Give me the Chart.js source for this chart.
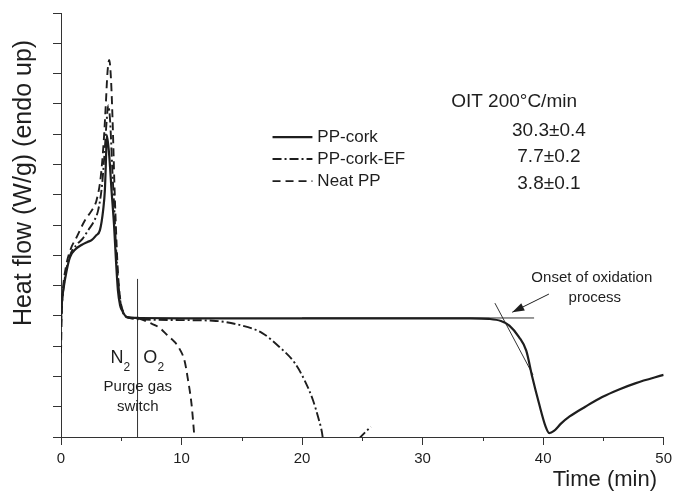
<!DOCTYPE html>
<html>
<head>
<meta charset="utf-8">
<script src="https://cdn.jsdelivr.net/npm/chart.js@4.4.1/dist/chart.umd.min.js"></script>
<style>
  html, body { margin: 0; padding: 0; background: #fff; }
  #wrap { width: 674px; height: 492px; position: relative; }
</style>
</head>
<body>
<div id="wrap"><canvas id="c"></canvas></div>
<script>
// OIT curves, heat flow (arbitrary units, endo up) vs time (min)
const corkTime = [0, 0.08, 0.19, 0.47, 0.75, 1.2, 1.7, 2.2, 2.54, 2.9, 3.23, 3.5, 3.64, 3.72, 3.8, 4.0, 4.2, 4.4, 4.55, 4.72, 4.9, 5.05, 5.46, 6.5, 10, 20, 30, 34, 35.5, 36.5, 37.2, 38.0, 38.6, 39.1, 39.65, 40.2, 40.5, 40.9, 41.5, 42.2, 43.5, 44.9, 46.3, 47.7, 50];
const corkFlow = [3.9, 4.5, 4.85, 5.5, 5.94, 6.2, 6.34, 6.44, 6.5, 6.65, 6.83, 7.5, 8.15, 9.0, 9.97, 9.3, 8.1, 7.0, 5.9, 4.85, 4.35, 4.19, 3.96, 3.93, 3.92, 3.92, 3.92, 3.92, 3.9, 3.83, 3.68, 3.3, 2.85, 1.98, 1.12, 0.35, 0.13, 0.2, 0.45, 0.68, 1.0, 1.32, 1.57, 1.78, 2.05];

const efTime = [0, 0.08, 0.2, 0.45, 0.8, 1.3, 1.8, 2.26, 2.7, 3.09, 3.4, 3.6, 3.78, 3.92, 4.08, 4.25, 4.45, 4.6, 4.8, 5.0, 5.3, 5.8, 7, 9.85, 12.6, 14.8, 16.7, 18.1, 19.4, 20.2, 20.9, 21.4, 21.66, 21.8, 23, 24.7, 25.7];
const efFlow = [3.7, 4.4, 4.9, 5.55, 6.05, 6.35, 6.55, 6.83, 7.1, 7.5, 8.3, 9.3, 10.4, 10.95, 10.4, 8.9, 7.3, 6.0, 4.9, 4.3, 4.0, 3.92, 3.88, 3.86, 3.84, 3.7, 3.43, 2.98, 2.44, 1.88, 1.22, 0.56, 0.13, -0.3, null, -0.06, 0.34];

const neatTime = [0, 0.06, 0.15, 0.4, 0.8, 1.3, 1.99, 2.5, 2.95, 3.3, 3.55, 3.72, 3.85, 4.0, 4.15, 4.3, 4.42, 4.55, 4.7, 4.9, 5.2, 5.6, 6.5, 7.4, 8.2, 8.8, 9.4, 9.85, 10.26, 10.54, 10.82, 11.0, 11.1];
const neatFlow = [2.77, 4.0, 4.8, 5.6, 6.2, 6.6, 7.16, 7.45, 7.82, 8.6, 9.8, 11.0, 12.0, 12.45, 11.8, 10.2, 8.5, 7.0, 5.6, 4.6, 4.1, 3.95, 3.9, 3.76, 3.6, 3.37, 3.15, 2.9, 2.5, 1.88, 1.12, 0.33, -0.2];

// construction lines
const baselineTime = [20, 39.25];
const baselineFlow = [3.93, 3.93];
const tangentTime = [36.0, 39.16];
const tangentFlow = [4.42, 2.05];
const switchTime = [6.35, 6.35];
const switchFlow = [0, 5.22];

const seriesLabels = ['PP-cork', 'PP-cork-EF', 'Neat PP'];
const oitValues = ['30.3±0.4', '7.7±0.2', '3.8±0.1'];
const xTicks = [0, 10, 20, 30, 40, 50];

const FONT = '"Liberation Sans", Arial, Helvetica, sans-serif';
const INK = '#1e1e1e';

const pts = (xs, ys) => xs.map((v, i) => ({ x: v, y: ys[i] }));

function lineDs(label, xs, ys, dash, width) {
  return {
    label, data: pts(xs, ys), borderColor: INK, borderWidth: width, borderDash: dash,
    pointRadius: 0, fill: false, cubicInterpolationMode: 'monotone', spanGaps: false,
  };
}
function helperDs(xs, ys) {
  return { label: '', data: pts(xs, ys), borderColor: '#333', borderWidth: 1, pointRadius: 0, tension: 0, fill: false };
}

const annot = {
  id: 'annot',
  afterDraw(chart) {
    const { ctx, scales: { x, y } } = chart;
    const px = v => x.getPixelForValue(v);
    const py = v => y.getPixelForValue(v);
    ctx.save();
    ctx.fillStyle = INK;

    // minor x ticks
    ctx.lineWidth = 1;
    ctx.strokeStyle = '#333';
    for (let t = 5; t < 50; t += 10) {
      const xx = Math.round(px(t)) + 0.5;
      ctx.beginPath(); ctx.moveTo(xx, chart.chartArea.bottom); ctx.lineTo(xx, chart.chartArea.bottom + 4); ctx.stroke();
    }

    // axis titles
    ctx.font = '25px ' + FONT;
    ctx.textAlign = 'center'; ctx.textBaseline = 'middle';
    ctx.save();
    ctx.translate(24, 183);
    ctx.rotate(-Math.PI / 2);
    ctx.fillText('Heat flow (W/g) (endo up)', 0, 0);
    ctx.restore();
    ctx.font = '22px ' + FONT;
    ctx.textAlign = 'right';
    ctx.fillText('Time (min)', 657, 480);

    // legend
    ctx.font = '17px ' + FONT;
    ctx.textAlign = 'left';
    const legY = [9.90, 9.18, 8.45];
    chart.data.datasets.slice(0, 3).forEach((ds, i) => {
      ctx.strokeStyle = INK;
      ctx.lineWidth = ds.borderWidth;
      ctx.setLineDash(ds.borderDash || []);
      ctx.beginPath(); ctx.moveTo(px(17.55), py(legY[i])); ctx.lineTo(px(20.86), py(legY[i])); ctx.stroke();
      ctx.setLineDash([]);
      ctx.fillText(ds.label, px(21.27), py(legY[i]));
    });

    // OIT table
    ctx.font = '19px ' + FONT;
    ctx.textAlign = 'left';
    ctx.fillText('OIT 200°C/min', px(32.37), py(11.06));
    ctx.textAlign = 'center';
    const valY = [10.10, 9.24, 8.35];
    oitValues.forEach((v, i) => ctx.fillText(v, px(40.48), py(valY[i])));

    // gas switch
    ctx.font = '18px ' + FONT;
    ctx.fillText('N', px(4.64), py(2.61));
    ctx.fillText('O', px(7.41), py(2.61));
    ctx.font = '12px ' + FONT;
    ctx.fillText('2', px(5.46), py(2.28));
    ctx.fillText('2', px(8.28), py(2.28));
    ctx.font = '15px ' + FONT;
    ctx.fillText('Purge gas', px(6.37), py(1.65));
    ctx.fillText('switch', px(6.37), py(0.99));

    // onset note + arrow
    ctx.fillText('Onset of oxidation', px(44.04), py(5.25));
    ctx.fillText('process', px(44.29), py(4.59));
    const x0 = px(40.48), y0 = py(4.72), x1 = px(37.44), y1 = py(4.12);
    ctx.strokeStyle = INK; ctx.lineWidth = 1;
    ctx.beginPath(); ctx.moveTo(x0, y0); ctx.lineTo(x1, y1); ctx.stroke();
    const a = Math.atan2(y1 - y0, x1 - x0);
    ctx.beginPath();
    ctx.moveTo(x1, y1);
    ctx.lineTo(x1 - 12 * Math.cos(a) + 4 * Math.sin(a), y1 - 12 * Math.sin(a) - 4 * Math.cos(a));
    ctx.lineTo(x1 - 12 * Math.cos(a) - 4 * Math.sin(a), y1 - 12 * Math.sin(a) + 4 * Math.cos(a));
    ctx.closePath(); ctx.fill();
    ctx.restore();
  }
};

new Chart(document.getElementById('c'), {
  type: 'line',
  data: {
    datasets: [
      lineDs(seriesLabels[0], corkTime, corkFlow, [], 2.2),
      lineDs(seriesLabels[1], efTime, efFlow, [9, 3, 2, 3], 1.9),
      lineDs(seriesLabels[2], neatTime, neatFlow, [8, 5], 1.9),
      helperDs(baselineTime, baselineFlow),
      helperDs(tangentTime, tangentFlow),
      helperDs(switchTime, switchFlow),
    ]
  },
  options: {
    responsive: true,
    maintainAspectRatio: false,
    animation: false,
    devicePixelRatio: 1,
    layout: { padding: { top: 13, right: 9, left: 0, bottom: 0 } },
    plugins: { legend: { display: false }, tooltip: { enabled: false } },
    scales: {
      x: {
        type: 'linear', min: 0, max: 50,
        afterFit: s => { s.height = 55; },
        afterBuildTicks: s => { s.ticks = xTicks.map(v => ({ value: v })); },
        ticks: { color: INK, font: { family: FONT, size: 15, lineHeight: 1.6 }, padding: 2, maxRotation: 0 },
        grid: { drawOnChartArea: false, tickLength: 8, color: '#333' },
        border: { color: '#333', width: 1 },
      },
      y: {
        type: 'linear', min: 0, max: 14,
        afterFit: s => { s.width = 61; },
        ticks: { stepSize: 1, display: false },
        grid: { drawOnChartArea: false, tickLength: 8, color: '#333' },
        border: { color: '#333', width: 1 },
      }
    }
  },
  plugins: [annot]
});
</script>
</body>
</html>
